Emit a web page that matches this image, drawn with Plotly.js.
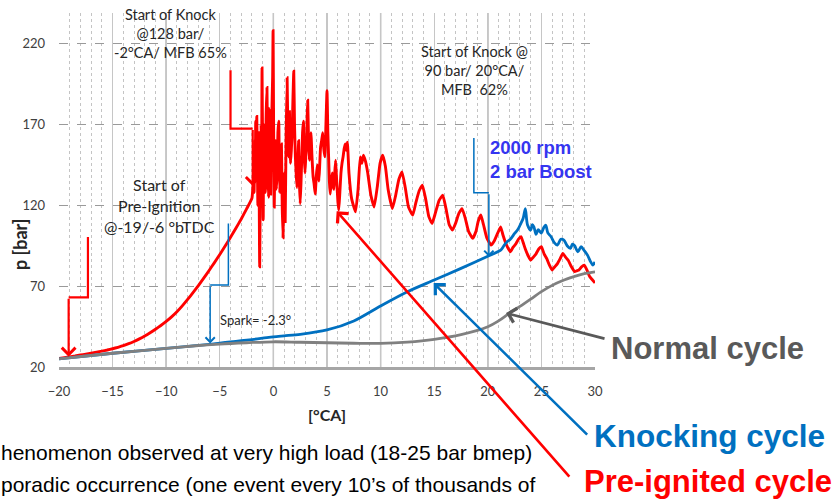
<!DOCTYPE html>
<html>
<head>
<meta charset="utf-8">
<script src="https://cdn.plot.ly/plotly-3.0.1.min.js"></script>
<style>html,body{margin:0;padding:0;background:#fff}#chart{width:834px;height:499px}</style>
</head>
<body>
<div id="chart"></div>
<script>
// ---- data ----
const xTickVals = [-20, -15, -10, -5, 0, 5, 10, 15, 20, 25, 30];
const yTickVals = [20, 70, 120, 170, 220];
const darkGridX = [-10, 0, 10, 20];

// Normal cycle (grey)
const normalX = [-20, -17.5, -15, -12.5, -10, -7.5, -5, -2.5, 0, 2.5, 5, 7.5, 10, 12.5, 15, 17.5, 20, 21, 22, 23, 24, 25, 26, 27, 28, 29, 30];
const normalY = [25, 26.8, 28.5, 30, 31.5, 33, 34.2, 35, 35.6, 35.3, 35, 34.7, 34.6, 35.4, 37.1, 40, 44.9, 48.5, 53.2, 57.5, 62, 66.6, 70.5, 73.5, 75.8, 77.8, 78.9];

// Knocking cycle (blue)
const knockX = [-20, -15, -10, -6, -5, -4, -3, -2, -1, 0, 1, 2.5, 5, 7.5, 10, 12.5, 15, 17.5, 20, 21.2, 21.5, 21.8, 22.1, 22.5, 22.8, 23.1, 23.3, 23.5, 23.7, 24.0, 24.15, 24.3, 24.5, 24.7, 25.0, 25.2, 25.4, 25.6, 25.9, 26.2, 26.5, 26.8, 27.1, 27.4, 27.7, 27.9, 28.1, 28.4, 28.7, 29.0, 29.3, 29.6, 29.8, 30];
const knockY = [25, 28.5, 31.5, 34, 34.8, 35.5, 36.3, 37, 37.8, 38.7, 39.3, 40.2, 42.9, 48.5, 57.8, 66.6, 73.8, 81, 88.5, 92.3, 95, 97.5, 99, 102.6, 105, 109, 112, 118, 108, 104.7, 108, 106.7, 102, 105, 102.8, 106, 107.8, 103, 100.6, 97, 95.4, 99, 98.5, 95, 93.4, 96, 95, 91.3, 94.4, 92, 89.2, 85, 83, 85];

// Pre-ignited cycle (red)
const preX = [
  -20, -19.5, -19, -18.5, -18, -17.5, -17, -16.5, -16, -15.5,
  -15, -14.5, -14, -13.5, -13, -12.5, -12, -11.5, -11, -10.5,
  -10, -9.5, -9, -8.5, -8, -7.5, -7, -6.5, -6, -5.5,
  -5, -4.5, -4, -3.5, -3, -2.5, -2,
  -1.92, -1.85, -1.8, -1.75, -1.7, -1.65, -1.6, -1.55, -1.5, -1.45,
  -1.4, -1.35, -1.28, -1.2, -1.15, -1.1, -1.06, -1.0, -0.95, -0.9,
  -0.85, -0.8, -0.75, -0.68, -0.6, -0.52, -0.45, -0.4, -0.35, -0.3,
  -0.25, -0.18, -0.12, -0.07, -0.03, 0.02, 0.08, 0.14, 0.2, 0.28,
  0.35, 0.42, 0.5, 0.55, 0.6, 0.68, 0.75, 0.82, 0.9, 0.95,
  1.0, 1.05, 1.1, 1.18, 1.28, 1.34, 1.4, 1.45, 1.5, 1.55,
  1.6, 1.68, 1.75, 1.82, 1.9, 1.97, 2.05, 2.12, 2.2, 2.28,
  2.35, 2.42, 2.5, 2.58, 2.65, 2.72, 2.8, 2.88, 2.95, 3.02,
  3.1, 3.15, 3.2, 3.28, 3.35, 3.42, 3.5, 3.6, 3.7, 3.8,
  3.9, 4.0, 4.1, 4.18, 4.25, 4.32, 4.4, 4.5, 4.6, 4.7,
  4.8, 4.9, 5.0, 5.08, 5.15, 5.22, 5.3, 5.4, 5.5, 5.58,
  5.65, 5.72, 5.8, 5.88, 5.95, 6.02, 6.1, 6.2, 6.3, 6.4,
  6.5, 6.6, 6.7, 6.8, 6.9,
  7.05, 7.3, 7.66, 7.9, 8.1, 8.25, 8.4, 8.6, 8.8, 9.1,
  9.4, 9.7, 9.95, 10.2, 10.45, 10.7, 11.1, 11.4, 11.7, 12.0,
  12.3, 12.6, 13.0, 13.3, 13.6, 13.9, 14.2, 14.5, 14.8, 15.1,
  15.45, 15.8, 16.1, 16.4, 16.7, 17.0, 17.3, 17.6, 17.9, 18.2,
  18.6, 18.9, 19.1, 19.35, 19.6, 19.9,
  20.3, 20.6, 20.8, 21.0, 21.2, 21.4, 21.6, 21.85, 22.1, 22.35,
  22.6, 22.85, 23.1, 23.3, 23.5, 23.75, 24.0, 24.25, 24.5, 24.75,
  25.0, 25.25, 25.5, 25.75, 26.0, 26.25, 26.5, 26.75, 27.0, 27.25,
  27.5, 27.8, 28.1, 28.3, 28.5, 28.75, 29.0, 29.25, 29.5, 29.75, 30];
const preY = [
  25.3, 25.8, 26.3, 26.8, 27.4, 28, 28.6, 29.2, 29.8, 30.5,
  31.3, 32.2, 33.2, 34.4, 35.8, 37.4, 39.2, 41.2, 43.4, 45.7,
  48.2, 51, 54.2, 57.8, 61.8, 66, 70.4, 75, 79.7, 84.6,
  89.6, 94.8, 100.2, 105.8, 111.6, 117.8, 124.5,
  131, 140, 128, 160, 135, 172, 140, 175, 150, 120,
  165, 150, 82, 150, 170, 145, 205, 150, 111, 170,
  160, 130, 128, 175, 193, 140, 125, 180, 170, 150,
  127, 165, 185, 200, 228, 170, 119, 150, 160, 130,
  140, 165, 172, 145, 128, 150, 158, 120, 100, 125,
  140, 125, 110, 160, 199, 170, 150, 165, 178, 160,
  146, 155, 165, 185, 203, 170, 150, 140, 131, 145,
  160, 135, 121, 135, 150, 165, 172, 150, 140, 150,
  160, 175, 185, 160, 148, 158, 165, 150, 138, 133,
  127, 138, 145, 140, 135, 145, 156, 160, 165, 155,
  150, 170, 191, 165, 150, 135, 127, 135, 140, 132,
  130, 140, 148, 138, 130, 122, 117, 128, 140, 146,
  150, 155, 158, 154, 159,
  140, 124, 116, 130, 150, 146, 151, 147, 140, 126,
  119, 132, 146, 151, 144, 130, 118, 126, 136, 140.7,
  131, 119, 114, 122, 129, 132.5, 124, 113, 108.8, 115,
  123, 126.3, 118, 108, 104.7, 109, 115, 118, 112, 104,
  99.6, 104, 110, 114, 108, 100,
  95.4, 98, 101, 104, 106.7, 102, 98, 94, 91.3, 94,
  96, 99, 100.6, 97, 93, 89, 86.2, 88, 90, 93,
  94.4, 90, 87, 83, 80, 82, 84, 87, 90.3, 88,
  86, 82, 79, 79.5, 80, 82, 83, 80, 76, 74, 72];

// ---- layout helpers ----
const L = 59, R = 595, T = 13, B = 367;
const px = v => (v - L) / (R - L);
const py = v => (B - v) / (B - T);
const calib = 'Lato, "Open Sans", sans-serif';
const arial = '"Liberation Sans", Arial, sans-serif';

const traces = [
  {x: preX, y: preY, mode: 'lines', line: {color: '#ff0000', width: 2.9, shape: 'spline', smoothing: 0.4}, hoverinfo: 'skip'},
  {x: knockX, y: knockY, mode: 'lines', line: {color: '#0070c0', width: 2.8, shape: 'spline', smoothing: 0.8}, hoverinfo: 'skip'},
  {x: normalX, y: normalY, mode: 'lines', line: {color: '#808080', width: 2.8, shape: 'spline', smoothing: 1}, hoverinfo: 'skip'}
];

function txt(t, x, y, size, opts) {
  return Object.assign({xref: 'paper', yref: 'paper', x: px(x), y: py(y), text: t, showarrow: false,
    xanchor: 'center', yanchor: 'middle', font: {family: calib, size: size, color: '#262626'}}, opts || {});
}
function stepArrow(x0, y0, y1, color, w) {
  return {xref: 'x', yref: 'y', axref: 'x', ayref: 'y', x: x0, y: y1, ax: x0, ay: y0, text: '',
    showarrow: true, arrowhead: 4, arrowsize: 1.2, arrowwidth: w, arrowcolor: color};
}
function leader(x, y, ax, ay, color) {
  return {xref: 'x', yref: 'y', x: x, y: y, ax: ax, ay: ay, text: '', showarrow: true,
    arrowhead: 4, arrowsize: 1.1, arrowwidth: 2.6, arrowcolor: color};
}

const annotations = [
  txt('Start of Knock<br>@128 bar/<br>-2°CA/ MFB 65%', 170, 34, 14.5),
  txt('Start of Knock @<br>90 bar/ 20°CA/<br>MFB\u00a0 62%', 474, 70, 14.5),
  txt('Start of<br>Pre-Ignition<br>@-19/-6 °bTDC', 159, 205, 16),
  txt('Spark= -2.3°', 255, 320, 13),
  txt('2000 rpm<br>2 bar Boost', 488, 159, 18.5, {xanchor: 'left', align: 'left', font: {family: arial, size: 18.5, color: '#3535f0', weight: 'bold'}}),
  txt('<b>Normal cycle</b>', 609, 348, 31, {xanchor: 'left', font: {family: arial, size: 31, color: '#595959'}}),
  txt('<b>Knocking cycle</b>', 592, 436, 31.5, {xanchor: 'left', font: {family: arial, size: 31.5, color: '#0070c0'}}),
  txt('<b>Pre-ignited cycle</b>', 582, 481, 31, {xanchor: 'left', font: {family: arial, size: 31, color: '#ff0000'}}),
  txt('henomenon observed at very high load (18-25 bar bmep)', -1, 452, 21, {xanchor: 'left', font: {family: arial, size: 21, color: '#000'}}),
  txt('poradic occurrence (one event every 10’s of thousands of', -1, 484, 21, {xanchor: 'left', font: {family: arial, size: 21, color: '#000'}}),
  txt('<b>p [bar]</b>', 20, 245, 18, {textangle: -90}),
  txt('<b>[°CA]</b>', 327, 414, 16),
  stepArrow(-19.1, 63.1, 26.4, '#ff0000', 2.2),
  stepArrow(-1.93, 167.5, 132, '#ff0000', 2.2),
  stepArrow(-5.9, 70.7, 34.6, '#0070c0', 1.5),
  stepArrow(20.1, 127.8, 88.2, '#0070c0', 1.5),
  leader(5.9, 116.4, 234, 267, '#ff0000'),
  leader(14.95, 71.9, 155, 153, '#0070c0'),
  leader(21.7, 53.4, 100, 26, '#595959')
];

const shapes = darkGridX.map(v => ({type: 'line', layer: 'below', xref: 'x', yref: 'paper', x0: v, x1: v, y0: 0, y1: 1,
    line: {color: '#8c8c8c', width: 1.3}})).concat([
  {type: 'path', xref: 'x', yref: 'y', path: 'M -17.3 100.4 L -17.3 63.1 L -19.1 63.1', line: {color: '#ff0000', width: 2.2}},
  {type: 'path', xref: 'x', yref: 'y', path: 'M -4.0 203.6 L -4.0 167.5 L -1.93 167.5', line: {color: '#ff0000', width: 2.2}},
  {type: 'path', xref: 'x', yref: 'y', path: 'M -4.2 108.8 L -4.2 70.7 L -5.9 70.7', line: {color: '#0070c0', width: 1.5}},
  {type: 'path', xref: 'x', yref: 'y', path: 'M 18.7 161.6 L 18.7 127.8 L 20.1 127.8', line: {color: '#0070c0', width: 1.5}}
]);

const layout = {
  width: 834, height: 499,
  margin: {l: L, r: 834 - R, t: T, b: 499 - B, pad: 0},
  paper_bgcolor: '#fff', plot_bgcolor: '#fff',
  showlegend: false,
  xaxis: {range: [-20, 30], tickvals: xTickVals, ticks: '', showgrid: true, gridcolor: '#c6c6c6', gridwidth: 1.3,
    minor: {dtick: 1, showgrid: true, gridcolor: '#c4c4c4', griddash: 'dot', gridwidth: 1},
    zeroline: false, showline: true, linecolor: '#a6a6a6', linewidth: 2.5,
    tickfont: {family: calib, size: 13, color: '#404040'}, ticklabelstandoff: 11, fixedrange: true},
  yaxis: {range: [20, 239], tickvals: yTickVals, ticks: '', showgrid: true, gridcolor: '#9a9a9a', griddash: 'dash', gridwidth: 1,
    zeroline: false, showline: false,
    tickfont: {family: calib, size: 13, color: '#404040'}, ticklabelstandoff: 13, fixedrange: true},
  annotations: annotations,
  shapes: shapes
};

Plotly.newPlot('chart', traces, layout, {displayModeBar: false, staticPlot: true});
</script>
</body>
</html>
